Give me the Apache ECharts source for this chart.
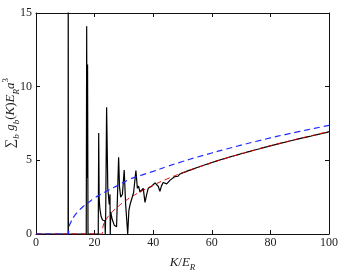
<!DOCTYPE html>
<html>
<head>
<meta charset="utf-8">
<script src="https://cdn.jsdelivr.net/npm/echarts@6/dist/echarts.min.js"></script>
<style>html,body{margin:0;padding:0;background:#fff;overflow:hidden}#c{position:absolute;left:0;top:0;width:345px;height:277px}</style>
</head>
<body>
<div id="c"></div>
<script>
// x tick labels and y tick labels
var xTicks = [0, 20, 40, 60, 80, 100];
var yTicks = [0, 5, 10, 15];

// black: sum_b g_b(K), resonant part (K < 48)
var kBlackLow = [0, 10.95, 11.0, 11.05, 17.15, 17.3, 17.4, 17.6, 17.75, 21.25, 21.4, 21.55, 21.8, 22.2, 22.7, 23.2, 23.5, 23.65, 23.8, 24.1, 24.5, 25.0, 25.25, 25.35, 25.5, 26.0, 26.7, 27.5, 28.0, 28.2, 28.5, 28.9, 29.5, 30.1, 30.6, 31.3, 31.7, 32.1, 32.7, 33.3, 34.1, 34.6, 35.0, 35.5, 36.0, 36.6, 37.2, 37.8, 38.3, 39.5, 40.6, 41.7, 42.3, 42.8, 43.4, 44.6, 45.7, 47.4];
var vBlackLow = [0, 0, 18, 0, 0, 14.1, 3.8, 11.5, 0, 0, 6.86, 2.4, 1.7, 1.2, 0.95, 0.85, 0.9, 0, 1.5, 8.6, 3.1, 2.0, 2.7, 0, 1.5, 1.0, 0.6, 0.5, 0.5, 5.2, 3.2, 2.5, 2.7, 4.34, 2.0, 0, 1.6, 2.0, 1.95, 2.8, 4.3, 3.1, 3.25, 2.85, 2.95, 3.1, 2.15, 2.7, 3.1, 3.24, 3.47, 3.24, 2.9, 3.25, 3.5, 3.4, 3.64, 3.9];

// black: smooth noisy tail (K >= 48), sampled every 0.5
var kBlackHigh = [
  48, 48.5, 49, 49.5, 50, 50.5, 51, 51.5, 52, 52.5,
  53, 53.5, 54, 54.5, 55, 55.5, 56, 56.5, 57, 57.5,
  58, 58.5, 59, 59.5, 60, 60.5, 61, 61.5, 62, 62.5,
  63, 63.5, 64, 64.5, 65, 65.5, 66, 66.5, 67, 67.5,
  68, 68.5, 69, 69.5, 70, 70.5, 71, 71.5, 72, 72.5,
  73, 73.5, 74, 74.5, 75, 75.5, 76, 76.5, 77, 77.5,
  78, 78.5, 79, 79.5, 80, 80.5, 81, 81.5, 82, 82.5,
  83, 83.5, 84, 84.5, 85, 85.5, 86, 86.5, 87, 87.5,
  88, 88.5, 89, 89.5, 90, 90.5, 91, 91.5, 92, 92.5,
  93, 93.5, 94, 94.5, 95, 95.5, 96, 96.5, 97, 97.5,
  98, 98.5, 99, 99.5, 100];
var vBlackHigh = [
  3.96, 3.92, 4.06, 4.03, 4.15, 4.11, 4.22, 4.19, 4.30, 4.26,
  4.37, 4.34, 4.44, 4.41, 4.51, 4.48, 4.58, 4.55, 4.65, 4.62,
  4.72, 4.69, 4.78, 4.76, 4.85, 4.82, 4.91, 4.89, 4.98, 4.95,
  5.04, 5.01, 5.10, 5.07, 5.16, 5.13, 5.22, 5.19, 5.28, 5.25,
  5.33, 5.31, 5.39, 5.37, 5.45, 5.42, 5.50, 5.48, 5.56, 5.53,
  5.61, 5.59, 5.67, 5.64, 5.72, 5.69, 5.77, 5.75, 5.83, 5.80,
  5.88, 5.85, 5.93, 5.90, 5.98, 5.96, 6.03, 6.01, 6.08, 6.06,
  6.13, 6.11, 6.18, 6.16, 6.23, 6.20, 6.28, 6.25, 6.33, 6.30,
  6.38, 6.35, 6.42, 6.40, 6.47, 6.45, 6.52, 6.49, 6.56, 6.54,
  6.61, 6.59, 6.65, 6.63, 6.70, 6.68, 6.75, 6.72, 6.79, 6.77,
  6.84, 6.81, 6.88, 6.86, 6.95];

// red dashed
var kRed = [0, 22.4, 23, 24, 25, 26, 28, 30, 33, 36, 40, 45, 50, 55, 60, 65, 70, 75, 80, 85, 90, 95, 100];
var vRed = [0, 0, 0.62, 1.0, 1.28, 1.5, 1.86, 2.18, 2.57, 2.91, 3.31, 3.76, 4.15, 4.5, 4.84, 5.15, 5.44, 5.72, 5.99, 6.24, 6.49, 6.72, 6.97];

// blue dashed
var kBlue = [0, 11, 11.3, 12, 13, 14, 16, 18, 20, 22, 25, 28, 32, 36, 40, 45, 50, 55, 60, 65, 70, 75, 80, 85, 90, 95, 100];
var vBlue = [0, 0, 0.5, 0.85, 1.2, 1.45, 1.85, 2.15, 2.45, 2.68, 3.0, 3.3, 3.72, 4.0, 4.25, 4.6, 4.92, 5.22, 5.5, 5.77, 6.03, 6.28, 6.52, 6.75, 6.96, 7.17, 7.37];

function pairs(k, v) { return k.map(function (x, i) { return [x, v[i]]; }); }

var serif = '"Liberation Serif", "DejaVu Serif", serif';
var el = document.getElementById('c');
var chart = echarts.init(el, null, { renderer: 'canvas', width: 345, height: 277 });

var axisCommon = {
  axisLine: { show: true, onZero: false, lineStyle: { color: '#111', width: 1 } },
  axisTick: { show: true, inside: true, length: 4, lineStyle: { color: '#111', width: 1 } },
  splitLine: { show: false }
};

chart.setOption({
  animation: false,
  backgroundColor: '#fff',
  grid: { left: 36, right: 16, top: 13, bottom: 36, containLabel: false },
  xAxis: [
    Object.assign({
      type: 'value', min: 0, max: 100, interval: 20, position: 'bottom',
      axisLabel: { show: true, margin: 3, color: '#222', fontFamily: serif, fontSize: 12,
        formatter: function (v) { return xTicks.indexOf(v) >= 0 ? String(v) : ''; } },
      name: '{i|K}{n|/}{i|E}{s|R}',
      nameLocation: 'middle', nameGap: 20,
      nameTextStyle: {
        rich: {
          i: { fontFamily: serif, fontStyle: 'italic', fontSize: 13, color: '#222', lineHeight: 18, verticalAlign: 'middle' },
          n: { fontFamily: serif, fontSize: 13, color: '#222', lineHeight: 18, verticalAlign: 'middle' },
          s: { fontFamily: serif, fontStyle: 'italic', fontSize: 9, color: '#222', lineHeight: 18, verticalAlign: 'bottom' }
        }
      }
    }, axisCommon),
    Object.assign({ type: 'value', min: 0, max: 100, interval: 20, position: 'top', axisLabel: { show: false } }, axisCommon)
  ],
  yAxis: [
    Object.assign({
      type: 'value', min: 0, max: 15, interval: 5, position: 'left',
      axisLabel: { show: true, margin: 4, color: '#222', fontFamily: serif, fontSize: 12,
        formatter: function (v) { return yTicks.indexOf(v) >= 0 ? String(v) : ''; } }
    }, axisCommon),
    Object.assign({ type: 'value', min: 0, max: 15, interval: 5, position: 'right', axisLabel: { show: false } }, axisCommon)
  ],
  graphic: [{
    type: 'text', x: 11, y: 113, rotation: Math.PI / 2,
    style: {
      text: '{n|∑}{s|b} {i|g}{s|b}{n|(}{i|K}{n|)}{i|E}{s|R}{i|a}{p|3}',
      align: 'center', verticalAlign: 'middle',
      rich: {
        n: { fontFamily: serif, fontSize: 13, fill: '#222', lineHeight: 20, verticalAlign: 'middle' },
        i: { fontFamily: serif, fontStyle: 'italic', fontSize: 13, fill: '#222', lineHeight: 20, verticalAlign: 'middle' },
        s: { fontFamily: serif, fontStyle: 'italic', fontSize: 9, fill: '#222', lineHeight: 20, verticalAlign: 'bottom' },
        p: { fontFamily: serif, fontSize: 9, fill: '#222', lineHeight: 20, verticalAlign: 'top' }
      }
    }
  }],
  series: [
    { type: 'line', data: pairs(kBlackLow, vBlackLow).concat(pairs(kBlackHigh, vBlackHigh)),
      showSymbol: false, symbol: 'none', clip: true,
      lineStyle: { color: '#000', width: 1.2 }, z: 2 },
    { type: 'line', data: pairs(kRed, vRed), showSymbol: false, symbol: 'none', smooth: true, clip: true,
      lineStyle: { color: '#e00000', width: 1, type: [5, 4] }, z: 3 },
    { type: 'line', data: pairs(kBlue, vBlue), showSymbol: false, symbol: 'none', smooth: true, clip: true,
      lineStyle: { color: '#1f2bff', width: 1.2, type: [6, 4] }, z: 3 }
  ]
});
</script>
</body>
</html>
